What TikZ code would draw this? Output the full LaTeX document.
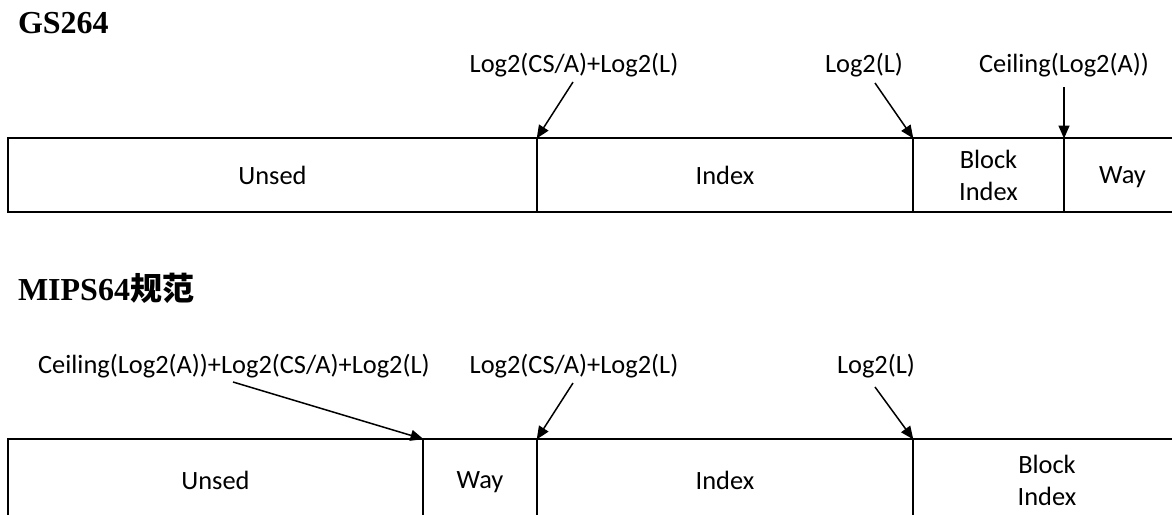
\documentclass[tikz,border=0pt]{standalone}
\usepackage{fontspec}
\setmainfont{Liberation Serif}
\newfontfamily\labfont{Carlito}
\newfontfamily\cjkfont{Noto Sans CJK SC}
\usetikzlibrary{arrows.meta,calc}
\tikzset{
  field/.style={draw, line width=2pt, inner sep=0pt, outer sep=0pt, align=center,
    font=\labfont\fontsize{26.4}{32}\selectfont},
  lab/.style={inner sep=0pt, outer sep=0pt, anchor=base, font=\labfont\fontsize{26.4}{32}\selectfont},
  ttl/.style={inner sep=0pt, outer sep=0pt, anchor=base west, font=\fontsize{32}{36}\selectfont\bfseries},
  arr/.style={line width=1.5pt, -{Triangle[length=13pt,width=11pt]}, shorten >=-0.5pt}
}
\begin{document}
\begin{tikzpicture}[x=1pt,y=-1pt]
\useasboundingbox (0,0) rectangle (1172,514);
\clip (0,0) rectangle (1172,514);
\fill[white] (0,0) rectangle (1172,514);

% ---- GS264 ----
\node[ttl] (t1) at (18,33) {GS264};
\node[field, minimum width=529pt, minimum height=74pt] (un1) at (272.5,175) {Unsed};
\node[field, minimum width=376pt, minimum height=74pt] (ix1) at (725,175) {Index};
\node[field, minimum width=151pt, minimum height=74pt] (bi1) at (988.5,175) {Block\\Index};
\node[field, minimum width=117pt, minimum height=74pt, text depth=0pt] (wy1) at (1122.5,175) {Way};

\node[lab] (l11) at (574,72) {Log2(CS/A)+Log2(L)};
\node[lab] (l12) at (864,72) {Log2(L)};
\node[lab] (l13) at (1064,72) {Ceiling(Log2(A))};
\draw[arr] ($(l11.base)+(-1,10)$) -- (ix1.north west);
\draw[arr] ($(l12.base)+(11,11)$) -- (bi1.north west);
\draw[arr] ($(l13.base)+(0,15)$) -- (wy1.north west);

% ---- MIPS64 ----
\node[ttl] (t2) at (18,300) {MIPS64{\cjkfont 规范}};
\node[field, minimum width=415pt, minimum height=82pt] (un2) at (215.5,480) {Unsed};
\node[field, minimum width=114pt, minimum height=82pt, text depth=0pt] (wy2) at (480,480) {Way};
\node[field, minimum width=376pt, minimum height=82pt] (ix2) at (725,480) {Index};
\node[field, minimum width=268pt, minimum height=82pt] (bi2) at (1047,480) {Block\\Index};

\node[lab] (l21) at (234,373) {Ceiling(Log2(A))+Log2(CS/A)+Log2(L)};
\node[lab] (l22) at (574,373) {Log2(CS/A)+Log2(L)};
\node[lab] (l23) at (876,373) {Log2(L)};
\draw[arr] ($(l21.base)+(-1,9)$) -- (wy2.north west);
\draw[arr] ($(l22.base)+(-1,10)$) -- (ix2.north west);
\draw[arr] ($(l23.base)+(-1,14)$) -- (bi2.north west);
\end{tikzpicture}
\end{document}
